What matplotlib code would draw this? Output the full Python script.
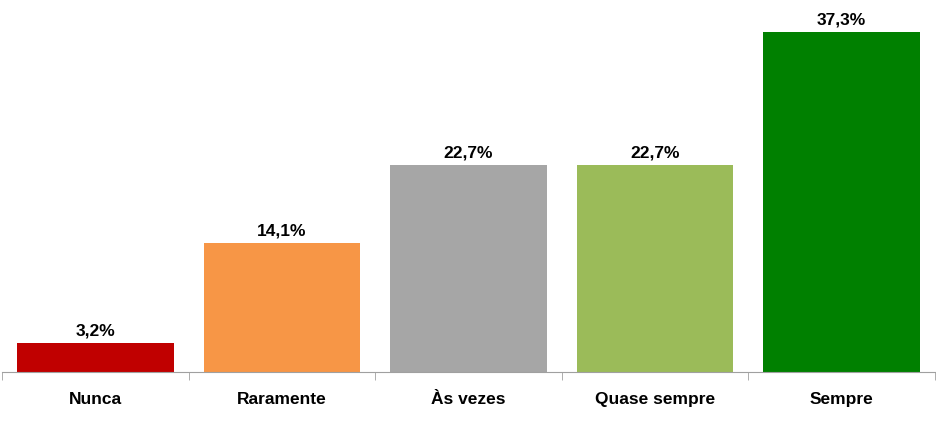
import numpy as np
import matplotlib.pyplot as plt
from matplotlib import font_manager

categories = ["Nunca", "Raramente", "Às vezes", "Quase sempre", "Sempre"]
values = [3.2, 14.1, 22.7, 22.7, 37.3]
labels = ["3,2%", "14,1%", "22,7%", "22,7%", "37,3%"]
colors = ["#C00000", "#F79646", "#A6A6A6", "#9BBB59", "#008000"]

names = {f.name for f in font_manager.fontManager.ttflist}
fam = ["Liberation Sans Narrow", "Liberation Sans", "DejaVu Sans"]
fam = [f for f in fam if f in names] or ["DejaVu Sans"]
plt.rcParams['font.family'] = fam

fig = plt.figure(figsize=(9.37, 4.35), dpi=100)
ax = fig.add_axes([2/937, 62/435, 933/937, 365/435])

x = np.arange(len(categories))
ax.bar(x, values, width=0.84, color=colors)
for xi, v, lab in zip(x, values, labels):
    ax.text(xi, v + 0.6, lab, ha="center", va="bottom", fontsize=12.5, fontweight="bold")

ax.set_xlim(-0.5, len(categories) - 0.5)
ax.set_ylim(0, 40)
ax.set_yticks([])
ax.set_xticks(x)
ax.set_xticklabels(categories, fontsize=12.5, fontweight="bold")
ax.tick_params(axis="x", which="major", length=0, pad=14)
ax.set_xticks(np.arange(-0.5, len(categories)), minor=True)
ax.tick_params(axis="x", which="minor", length=6, color="#A0A0A0")
for s in ["top", "right", "left"]:
    ax.spines[s].set_visible(False)
ax.spines["bottom"].set_color("#A0A0A0")

fig.savefig("out.png", dpi=100)
